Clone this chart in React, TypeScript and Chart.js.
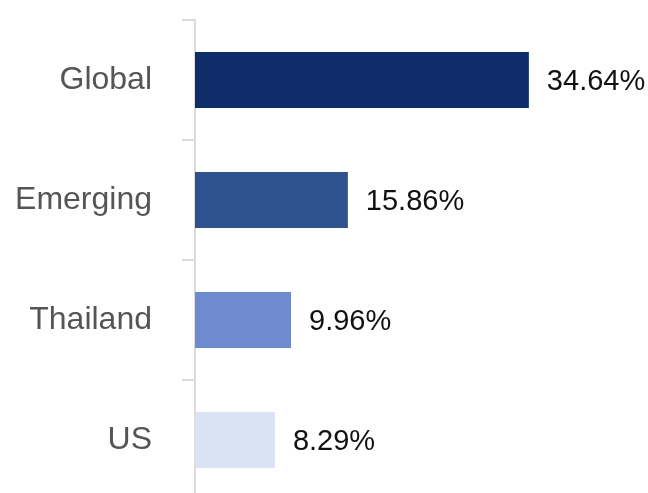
import React, { useEffect, useRef } from 'react';
import Chart from 'chart.js/auto';

const categories = ['Global', 'Emerging', 'Thailand', 'US'];
const returns = [34.64, 15.86, 9.96, 8.29];
const barColors = ['#0f2d69', '#2e528e', '#6e8bd0', '#dae3f3'];

const FONT = '"Liberation Sans", Arial, Helvetica, sans-serif';

// draws "xx.xx%" just right of each bar
const valueLabels = {
  id: 'valueLabels',
  afterDatasetsDraw(chart: any) {
    const ctx = chart.ctx;
    const meta = chart.getDatasetMeta(0);
    ctx.save();
    ctx.font = `29px ${FONT}`;
    ctx.fillStyle = '#111';
    ctx.textAlign = 'left';
    ctx.textBaseline = 'middle';
    meta.data.forEach((bar: any, i: number) => {
      const v = chart.data.datasets[0].data[i] as number;
      ctx.fillText(v.toFixed(2) + '%', bar.x + 18, bar.y + 2);
    });
    ctx.restore();
  },
};

const App: React.FC = () => {
  const chartRef = useRef<HTMLCanvasElement | null>(null);
  const chartInstance = useRef<Chart | null>(null);

  useEffect(() => {
    if (!chartRef.current) return;
    if (chartInstance.current) chartInstance.current.destroy();

    chartInstance.current = new Chart(chartRef.current, {
      type: 'bar',
      data: {
        labels: categories,
        datasets: [
          {
            data: returns,
            backgroundColor: barColors,
            borderWidth: 0,
            categoryPercentage: 1,
            barPercentage: 0.467,
          },
        ],
      },
      options: {
        indexAxis: 'y',
        animation: false,
        responsive: true,
        maintainAspectRatio: false,
        layout: { padding: { top: 20, bottom: 0, left: 0, right: 0 } },
        plugins: {
          legend: { display: false },
          tooltip: { enabled: false },
        },
        scales: {
          x: {
            display: false,
            min: 0,
            max: 47,
          },
          y: {
            afterFit: (scale: any) => {
              scale.width = 195;
              // tick padding would otherwise push the plot area down
              scale.paddingTop = 0;
              scale.paddingBottom = 0;
            },
            border: { display: true, color: '#dcdcdc', width: 2 },
            grid: {
              drawOnChartArea: false,
              drawTicks: true,
              tickLength: 13,
              color: '#dcdcdc',
              lineWidth: 2,
            },
            ticks: {
              padding: 30,
              color: '#555',
              font: { family: FONT, size: 32 },
            },
          },
        },
      },
      plugins: [valueLabels],
    });

    return () => {
      if (chartInstance.current) {
        chartInstance.current.destroy();
        chartInstance.current = null;
      }
    };
  }, []);

  return (
    <div style={{ position: 'fixed', left: 0, top: 0, width: 648, height: 493, overflow: 'hidden' }}>
      <div style={{ width: 648, height: 500, position: 'relative' }}>
        <canvas ref={chartRef} />
      </div>
    </div>
  );
};

export default App;
